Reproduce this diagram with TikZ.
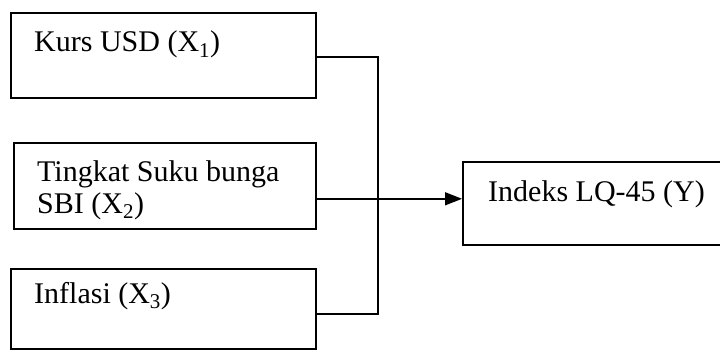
\documentclass[tikz,border=0pt]{standalone}
\usepackage{fontspec}
\setmainfont{Liberation Serif}
\usetikzlibrary{arrows.meta,calc}
\begin{document}
\begin{tikzpicture}[x=1pt,y=-1pt,
  box/.style={draw, line width=1.6pt, rectangle, inner sep=0pt, anchor=north west},
  lbl/.style={anchor=base west, inner sep=0pt, font=\fontsize{30}{32}\selectfont, align=left},
  wire/.style={line width=1.6pt},
  arr/.style={line width=1.6pt, -{Triangle[length=17pt,width=13pt]}}]
\useasboundingbox (0,0) rectangle (720,350);
\clip (0,0) rectangle (720,350);
\fill[white] (0,0) rectangle (720,350);
% boxes
\node[box, minimum width=305pt, minimum height=85pt] (x1) at (10,12) {};
\node[box, minimum width=302pt, minimum height=86pt] (x2) at (13,142) {};
\node[box, minimum width=305pt, minimum height=80pt] (x3) at (10,268) {};
\node[box, minimum width=280pt, minimum height=83pt] (y) at (462,161) {};
% texts
\node[lbl] (x1t) at (34,52) {Kurs USD (X\textsubscript{1})};
\node[lbl] (x2t) at (37,181) {Tingkat Suku bunga};
\node[lbl] (x2u) at (37,213) {SBI (X\textsubscript{2})};
\node[lbl] (x3t) at (34,303) {Inflasi (X\textsubscript{3})};
\node[lbl] (yt) at (488,201) {Indeks LQ-45 (Y)};
% connectors
\coordinate (a1) at ([yshift=-2pt]x1.east);
\coordinate (a2) at ([yshift=-13pt]x2.east);
\coordinate (a3) at ([yshift=-5pt]x3.east);
\coordinate (bus) at (378,0);
\draw[wire] (a1) -| (bus |- a3) -- (a3);
\draw[arr] (a2) -- (a2 -| y.west);
\end{tikzpicture}
\end{document}
